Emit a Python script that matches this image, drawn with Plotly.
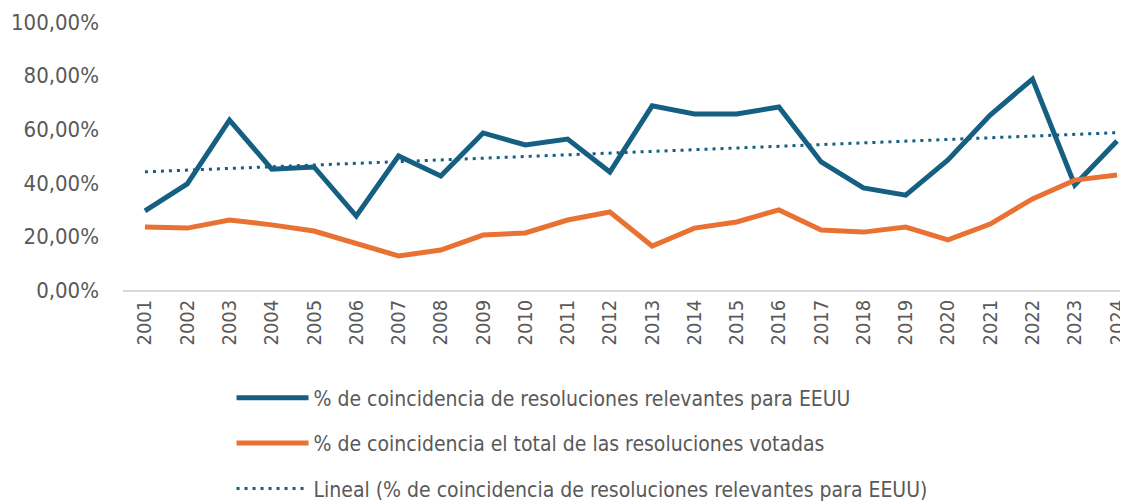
import numpy as np
import plotly.graph_objects as go

years = list(range(2001, 2025))
relevantes = [29.5, 39.6, 63.4, 45.1, 45.9, 27.6, 50.0, 42.5, 58.6, 54.1, 56.3, 44.0,
              68.7, 65.7, 65.7, 68.3, 47.8, 38.1, 35.4, 48.5, 65.3, 78.7, 39.2, 55.6]
total = [23.5, 23.1, 26.1, 24.3, 22.0, 17.2, 12.7, 14.9, 20.5, 21.3, 26.1, 29.1,
         16.4, 23.1, 25.4, 29.9, 22.4, 21.6, 23.5, 18.7, 24.6, 34.0, 41.0, 42.9]
name_rel = "% de coincidencia de resoluciones relevantes para EEUU"
name_tot = "% de coincidencia el total de las resoluciones votadas"
name_lin = "Lineal (% de coincidencia de resoluciones relevantes para EEUU)"

rel = np.array(relevantes) / 100
tot = np.array(total) / 100
coef = np.polyfit(years, rel, 1)
trend = np.polyval(coef, years)

BLUE = "#156082"
ORANGE = "#E97132"
FONT = "DejaVu Sans Condensed, Roboto, sans-serif"

fig = go.Figure()
fig.add_trace(go.Scatter(x=years, y=rel, mode="lines", name=name_rel, legendgroup="a",
                         line=dict(color=BLUE, width=5)))
fig.add_trace(go.Scatter(x=years, y=tot, mode="lines", name=name_tot, legendgroup="b",
                         line=dict(color=ORANGE, width=5)))
fig.add_trace(go.Scatter(x=years, y=trend, mode="lines", name=name_lin, legendgroup="c",
                         line=dict(color=BLUE, width=3, dash="3px,5px")))

fig.update_layout(
    width=1120, height=496,
    margin=dict(l=115, r=0, t=14, b=214, autoexpand=False),
    paper_bgcolor="white", plot_bgcolor="white",
    separators=",.",
    font=dict(family=FONT, color="#595959", size=19),
    showlegend=True,
    legend=dict(orientation="v", x=0.108, y=-0.327, xanchor="left", yanchor="top",
                font=dict(family=FONT, size=21, color="#595959"),
                tracegroupgap=15, itemwidth=72, bgcolor="rgba(0,0,0,0)"),
)
fig.update_xaxes(range=[2000.48, 2024.26], tickmode="array", tickvals=years,
                 ticktext=[str(y) for y in years], tickangle=-90, automargin=False,
                 ticklabeloverflow="allow",
                 tickfont=dict(family=FONT, size=20, color="#595959"),
                 showgrid=False, zeroline=False, showline=True,
                 linecolor="#D9D9D9", linewidth=1.5, ticks="")
fig.update_yaxes(range=[0, 1], tickvals=[0, 0.2, 0.4, 0.6, 0.8, 1.0], tickformat=".2%",
                 tickfont=dict(family=FONT, size=22, color="#595959"), automargin=False,
                 showgrid=False, zeroline=False, showline=False, ticks="",
                 ticklabelstandoff=23)

fig.write_html("out.html")
